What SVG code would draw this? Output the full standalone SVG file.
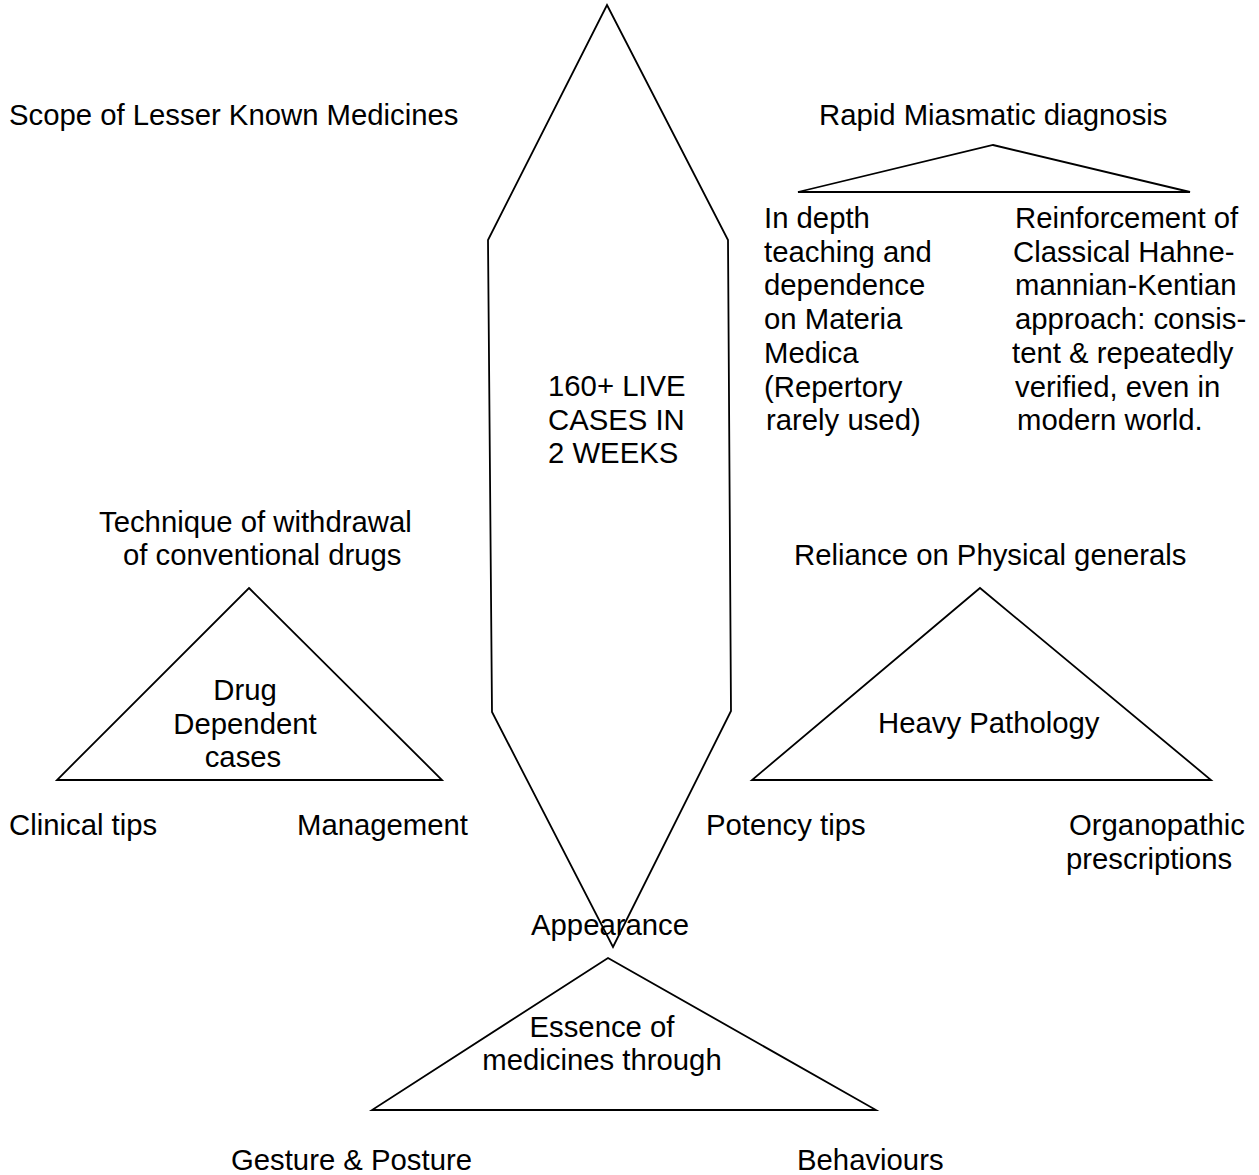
<svg xmlns="http://www.w3.org/2000/svg" width="1259" height="1175" viewBox="0 0 1259 1175">
<style>
.s{fill:#ffffff;stroke:#000000;stroke-width:1.8;stroke-linejoin:miter}
text{font-family:"Liberation Sans",Arial,sans-serif;font-size:29.3px;fill:#000000}
</style>
<rect width="1259" height="1175" fill="#ffffff"/>
<g id="connectors"></g>
<g id="central-hexagon">
<polygon class="s" points="607,5 728,240 731,711 613,947 492,712 488,240"/>
<text x="548" y="396">160+ LIVE</text>
<text x="548" y="430">CASES IN</text>
<text x="548" y="463">2 WEEKS</text>
</g>
<g id="scope-label">
<text x="9" y="125">Scope of Lesser Known Medicines</text>
</g>
<g id="miasmatic-triangle">
<text x="819" y="125">Rapid Miasmatic diagnosis</text>
<polygon class="s" points="993,145 1190,192 798,192"/>
<text x="764" y="228">In depth</text>
<text x="764" y="262">teaching and</text>
<text x="764" y="295">dependence</text>
<text x="764" y="329">on Materia</text>
<text x="764" y="363">Medica</text>
<text x="764" y="397">(Repertory</text>
<text x="766" y="430">rarely used)</text>
<text x="1015" y="228">Reinforcement of</text>
<text x="1013" y="262">Classical Hahne-</text>
<text x="1015" y="295">mannian-Kentian</text>
<text x="1015" y="329">approach: consis-</text>
<text x="1012" y="363">tent &amp; repeatedly</text>
<text x="1015" y="397">verified, even in</text>
<text x="1017" y="430">modern world.</text>
</g>
<g id="drug-dependent-triangle">
<text x="99" y="532">Technique of withdrawal</text>
<text x="123" y="565">of conventional drugs</text>
<polygon class="s" points="249,588 442,780 57,780"/>
<text x="245" y="700" text-anchor="middle">Drug</text>
<text x="245" y="734" text-anchor="middle">Dependent</text>
<text x="243" y="767" text-anchor="middle">cases</text>
<text x="9" y="835">Clinical tips</text>
<text x="297" y="835">Management</text>
</g>
<g id="heavy-pathology-triangle">
<text x="794" y="565">Reliance on Physical generals</text>
<polygon class="s" points="980,588 1211,780 752,780"/>
<text x="878" y="733">Heavy Pathology</text>
<text x="706" y="835">Potency tips</text>
<text x="1069" y="835">Organopathic</text>
<text x="1066" y="869">prescriptions</text>
</g>
<g id="essence-triangle">
<text x="531" y="935">Appearance</text>
<polygon class="s" points="608,958 876,1110 372,1110"/>
<text x="602" y="1037" text-anchor="middle">Essence of</text>
<text x="602" y="1070" text-anchor="middle">medicines through</text>
<text x="231" y="1170">Gesture &amp; Posture</text>
<text x="797" y="1170">Behaviours</text>
</g>
</svg>
